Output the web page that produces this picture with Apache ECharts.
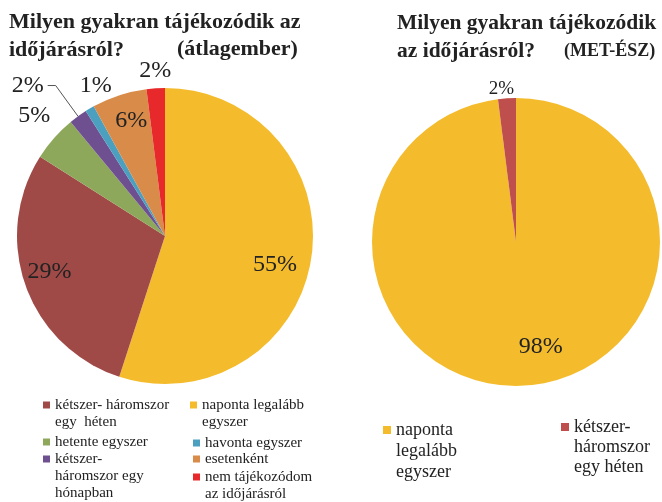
<!DOCTYPE html>
<html>
<head>
<meta charset="utf-8">
<script src="https://cdn.jsdelivr.net/npm/echarts@6/dist/echarts.min.js"></script>
<style>
  html, body { margin: 0; padding: 0; background: #fff; }
  #chart { width: 662px; height: 502px; }
</style>
</head>
<body>
<div id="chart"></div>
<script>
// átlagember
var avgNames = ['naponta legalább egyszer', 'kétszer-háromszor egy héten', 'hetente egyszer',
  'kétszer-háromszor egy hónapban', 'havonta egyszer', 'esetenként', 'nem tájékozódom az időjárásról'];
var avgValues = [55, 29, 5, 2, 1, 6, 2];
var avgColors = ['#F4BC2D', '#A04A48', '#8EA85B', '#6E5090', '#4BA0BF', '#D98B4A', '#E8292B'];
// MET-ÉSZ
var metNames = ['naponta legalább egyszer', 'kétszer-háromszor egy héten'];
var metValues = [98, 2];
var metColors = ['#F4BC2D', '#BF4F4C'];

// legend texts (wrapped as in the picture)
var legendLines = {
  'naponta legalább egyszer': ['naponta legalább', 'egyszer'],
  'kétszer-háromszor egy héten': ['kétszer- háromszor', 'egy  héten'],
  'hetente egyszer': ['hetente egyszer'],
  'kétszer-háromszor egy hónapban': ['kétszer-', 'háromszor egy', 'hónapban'],
  'havonta egyszer': ['havonta egyszer'],
  'esetenként': ['esetenként'],
  'nem tájékozódom az időjárásról': ['nem tájékozódom', 'az időjárásról']
};
var metLegendLines = {
  'naponta legalább egyszer': ['naponta', 'legalább', 'egyszer'],
  'kétszer-háromszor egy héten': ['kétszer-', 'háromszor', 'egy héten']
};

var serif = 'Liberation Serif';
var chart = echarts.init(document.getElementById('chart'));

// one legend per entry so the square sits on the first text line
function legendItem(name, color, lines, left, firstY, fontSize, lh) {
  var n = lines.length;
  var pad = [];
  for (var i = 1; i < n; i++) pad.push('');
  var text = pad.concat(lines).join('\n');
  return {
    left: left,
    top: firstY - (n - 0.5) * lh,
    padding: 0,
    icon: 'rect',
    itemWidth: fontSize > 16 ? 8 : 7,
    itemHeight: fontSize > 16 ? 8 : 7,
    selectedMode: false,
    data: [{ name: name, itemStyle: { color: color } }],
    formatter: function () { return text; },
    textStyle: { fontFamily: serif, fontSize: fontSize, lineHeight: lh, color: '#222' }
  };
}

var legendPos = [
  // [name index, left, first line y]
  [1, 43, 405], [2, 43, 442], [3, 43, 459],
  [0, 190, 405], [4, 193, 443], [5, 193, 459], [6, 193, 477]
];
var legends = legendPos.map(function (p) {
  var nm = avgNames[p[0]];
  return legendItem(nm, avgColors[p[0]], legendLines[nm], p[1], p[2], 15, 17);
});
legends.push(legendItem(metNames[0], metColors[0], metLegendLines[metNames[0]], 383, 430, 18, 21));
legends.push(legendItem(metNames[1], metColors[1], metLegendLines[metNames[1]], 561, 427, 18, 20));

// label nudges from the default inside position
var avgDx = [34, -43, -73, 0, -30, -10, -5];
var avgDy = [17, 10, -69, 0, -84, -42, -88];
var metDx = [20, -10];
var metDy = [30, -78];

function titleStyle(size) {
  return { fontFamily: serif, fontWeight: 'bold', fontSize: size, lineHeight: 28, color: '#222' };
}

var option = {
  backgroundColor: '#fff',
  animation: false,
  title: [
    { text: 'Milyen gyakran tájékozódik az\nidőjárásról?', left: 9, top: 8, padding: 0, textStyle: titleStyle(22) },
    { text: '(átlagember)', left: 177, top: 35, padding: 0, textStyle: titleStyle(22) },
    { text: 'Milyen gyakran tájékozódik\naz időjárásról?', left: 397, top: 9, padding: 0, textStyle: titleStyle(21.5) },
    { text: '(MET-ÉSZ)', left: 564, top: 37, padding: 0, textStyle: titleStyle(18) }
  ],
  legend: legends,
  series: [
    {
      type: 'pie',
      center: [165, 236],
      radius: 148,
      startAngle: 90,
      clockwise: true,
      avoidLabelOverlap: false,
      emphasis: { disabled: true },
      itemStyle: { borderWidth: 0 },
      label: {
        position: 'inside',
        formatter: '{c}%',
        fontFamily: serif,
        fontSize: 24,
        color: '#222'
      },
      labelLine: { show: false },
      labelLayout: function (params) {
        return { dx: avgDx[params.dataIndex], dy: avgDy[params.dataIndex] };
      },
      data: avgNames.map(function (nm, i) {
        var item = { name: nm, value: avgValues[i], itemStyle: { color: avgColors[i] } };
        if (i === 3) {
          item.label = { position: 'outside', distanceToLabelLine: 4 };
          item.labelLine = { show: true, length: 38, length2: 8, lineStyle: { color: '#555', width: 1 } };
        }
        return item;
      })
    },
    {
      type: 'pie',
      center: [516, 242],
      radius: 144,
      startAngle: 90,
      clockwise: true,
      avoidLabelOverlap: false,
      emphasis: { disabled: true },
      itemStyle: { borderWidth: 0 },
      label: {
        position: 'inside',
        formatter: '{c}%',
        fontFamily: serif,
        fontSize: 24,
        color: '#222'
      },
      labelLine: { show: false },
      labelLayout: function (params) {
        return { dx: metDx[params.dataIndex], dy: metDy[params.dataIndex] };
      },
      data: metNames.map(function (nm, i) {
        var item = { name: nm, value: metValues[i], itemStyle: { color: metColors[i] } };
        if (i === 1) item.label = { fontSize: 19 };
        return item;
      })
    }
  ]
};
chart.setOption(option);
</script>
</body>
</html>
